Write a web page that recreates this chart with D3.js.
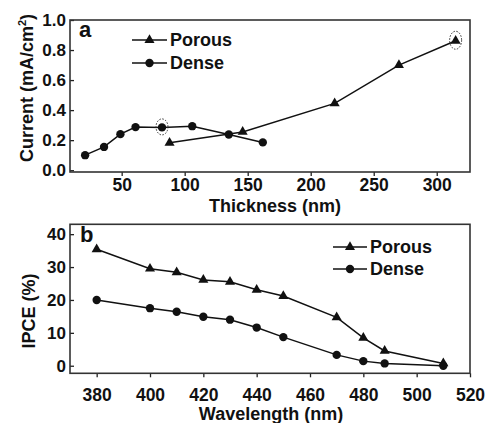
<!DOCTYPE html>
<html><head><meta charset="utf-8">
<script src="https://cdn.jsdelivr.net/npm/d3@7"></script>
<style>body{margin:0;background:#fff}text{font-family:"Liberation Sans",Arial,sans-serif;font-weight:bold;fill:#111}</style>
</head><body>
<script>
// Panel a: current vs thickness
const denseThick = [21, 36, 49, 61, 82, 106, 135, 162];
const denseCurrent = [0.10, 0.155, 0.24, 0.287, 0.285, 0.293, 0.238, 0.185];
const porousThick = [88, 146, 219, 270, 315];
const porousCurrent = [0.182, 0.255, 0.445, 0.70, 0.862];
const thickTicks = [50, 100, 150, 200, 250, 300];
const currentTicks = [0.0, 0.2, 0.4, 0.6, 0.8, 1.0];
// Panel b: IPCE vs wavelength
const wavelengths = [380, 400, 410, 420, 430, 440, 450, 470, 480, 488, 510];
const porousIPCE = [35.4, 29.5, 28.4, 26.1, 25.5, 23.1, 21.2, 14.7, 8.5, 4.5, 0.7];
const denseIPCE = [20.0, 17.5, 16.4, 14.9, 14.0, 11.6, 8.7, 3.3, 1.4, 0.7, 0.0];
const waveTicks = [380, 400, 420, 440, 460, 480, 500, 520];
const ipceTicks = [0, 10, 20, 30, 40];
const seriesNames = ["Porous", "Dense"];

const svg = d3.select("body").append("svg").attr("width", 485).attr("height", 423);
const tri = d3.symbol().type(d3.symbolTriangle).size(44);
const circ = d3.symbol().type(d3.symbolCircle).size(55);

function panel(cfg) {
  const g = svg.append("g");
  const x = d3.scaleLinear().domain(cfg.xd).range([70, 470]);
  const y = d3.scaleLinear().domain(cfg.yd).range([cfg.bottom, cfg.top]);
  // x axis (outward ticks)
  const xa = g.append("g").attr("transform", `translate(0,${cfg.bottom})`)
    .call(d3.axisBottom(x).tickValues(cfg.xt).tickSize(4).tickFormat(d3.format("d")));
  xa.selectAll("text").style("font-size", "17.5px").attr("y", cfg.xLabelOffset).attr("dy", "0.71em");
  // y axis (inward ticks)
  const ya = g.append("g").attr("transform", "translate(70,0)")
    .call(d3.axisLeft(y).tickValues(cfg.yt).tickSize(-4).tickFormat(cfg.yf));
  ya.selectAll("text").style("font-size", "17px").attr("x", -4);
  [xa, ya].forEach(a => { a.select(".domain").remove(); a.selectAll("line").attr("stroke", "#222").attr("stroke-width", 1.3); });
  // frame
  g.append("rect").attr("x", 70).attr("y", cfg.top).attr("width", 400).attr("height", cfg.bottom - cfg.top)
    .attr("fill", "none").attr("stroke", "#333").attr("stroke-width", 1.6);
  const line = d3.line().x(d => x(d[0])).y(d => y(d[1]));
  cfg.series.forEach(s => {
    const pts = s.xs.map((v, i) => [v, s.ys[i]]);
    g.append("path").attr("d", line(pts)).attr("fill", "none").attr("stroke", "#111").attr("stroke-width", 1.5);
    g.selectAll(null).data(pts).enter().append("path")
      .attr("d", s.sym).attr("fill", "#111")
      .attr("transform", d => `translate(${x(d[0])},${y(d[1])})`);
  });
  return {g, x, y};
}

const a = panel({
  xd: [9, 326.4], yd: [-0.012, 1.0], top: 20, bottom: 172, xLabelOffset: 6.5,
  xt: thickTicks, yt: currentTicks, yf: d3.format(".1f"),
  series: [{xs: porousThick, ys: porousCurrent, sym: tri}, {xs: denseThick, ys: denseCurrent, sym: circ}]
});
// dotted highlight ellipses
[[denseThick[4], denseCurrent[4], 6, 8], [porousThick[4], porousCurrent[4], 6, 9]].forEach(e => {
  a.g.append("ellipse").attr("cx", a.x(e[0])).attr("cy", a.y(e[1]) - 0.5).attr("rx", e[2]).attr("ry", e[3])
    .attr("fill", "none").attr("stroke", "#333").attr("stroke-width", 1).attr("stroke-dasharray", "1.5,1.5");
});

const b = panel({
  xd: [370, 520], yd: [-2.3, 43], top: 224.3, bottom: 373.3, xLabelOffset: 15,
  xt: waveTicks, yt: ipceTicks, yf: d3.format("d"),
  series: [{xs: wavelengths, ys: porousIPCE, sym: tri}, {xs: wavelengths, ys: denseIPCE, sym: circ}]
});

// panel letters
svg.append("text").attr("x", 79).attr("y", 37).style("font-size", "22px").text("a");
svg.append("text").attr("x", 80).attr("y", 242).style("font-size", "22px").text("b");

// legends
function legend(x0, x1, ys, tx) {
  const syms = [tri, circ];
  seriesNames.forEach((n, i) => {
    svg.append("line").attr("x1", x0).attr("x2", x1).attr("y1", ys[i]).attr("y2", ys[i]).attr("stroke", "#111").attr("stroke-width", 1.5);
    svg.append("path").attr("d", syms[i]).attr("fill", "#111").attr("transform", `translate(${(x0 + x1) / 2},${ys[i]})`);
    svg.append("text").attr("x", tx).attr("y", ys[i]).attr("dy", "0.36em").style("font-size", "18px").text(n);
  });
}
legend(132, 167, [40, 63], 170);
legend(333, 367, [247, 269], 370);

// axis titles
svg.append("text").attr("x", 275).attr("y", 211.5).attr("text-anchor", "middle").style("font-size", "18px").text("Thickness (nm)");
svg.append("text").attr("x", 271).attr("y", 420).attr("text-anchor", "middle").style("font-size", "18px").text("Wavelength (nm)");
const yt1 = svg.append("text").attr("transform", "translate(33,88) rotate(-90)").attr("text-anchor", "middle").style("font-size", "18px");
yt1.append("tspan").text("Current (mA/cm");
yt1.append("tspan").attr("dy", "-7").style("font-size", "11px").text("2");
yt1.append("tspan").attr("dy", "7").text(")");
svg.append("text").attr("transform", "translate(35,311) rotate(-90)").attr("text-anchor", "middle").style("font-size", "18px").text("IPCE (%)");
</script>
</body></html>
